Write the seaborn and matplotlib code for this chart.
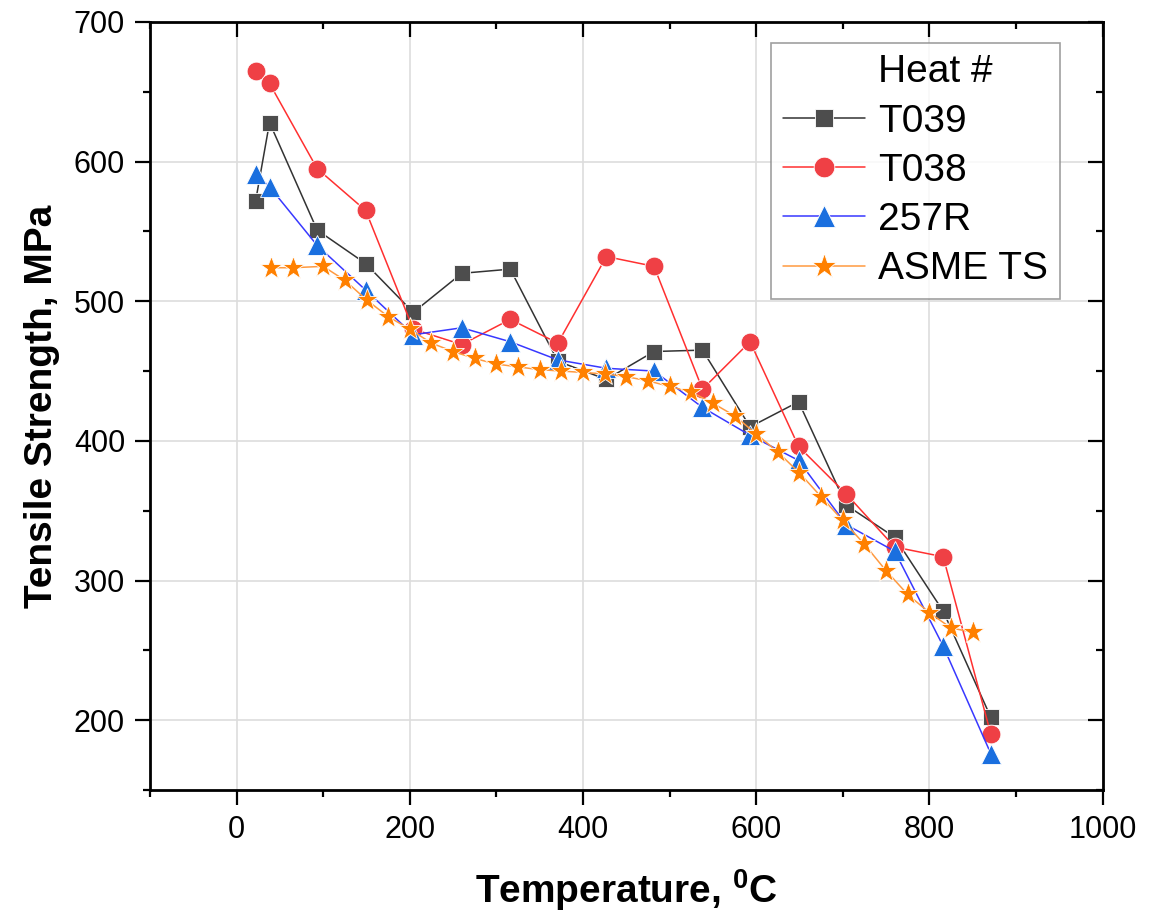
import numpy as np
import pandas as pd
import matplotlib.pyplot as plt
import seaborn as sns
from matplotlib.lines import Line2D
from matplotlib.ticker import MultipleLocator

# -----------------------------
# Data
# -----------------------------
test_temp = [22, 38, 93, 149, 204, 260, 316, 371, 427, 482, 538, 593, 649, 704, 760, 816, 871]
t039 = [572, 628, 551, 527, 492, 520, 523, 457, 444, 464, 465, 410, 428, 354, 331, 278, 202]
t038 = [665, 656, 595, 565, 480, 469, 487, 470, 532, 525, 437, 471, 396, 362, 324, 317, 190]
r257 = [591, 582, 540, 508, 476, 481, 471, 458, 452, 450, 424, 404, 386, 340, 321, 253, 176]

asme_temp = [40, 65, 100, 125, 150, 175, 200, 225, 250, 275, 300, 325, 350, 375, 400, 425,
             450, 475, 500, 525, 550, 575, 600, 625, 650, 675, 700, 725, 750, 775, 800, 825, 850]
asme_ts = [524, 524, 525, 515, 501, 489, 480, 470, 464, 459, 455, 453, 451, 450, 449, 448,
           446, 443, 439, 435, 427, 418, 405, 392, 377, 360, 343, 326, 307, 290, 277, 266, 263]

sns.set_theme(style="ticks")
plt.rcParams["font.family"] = ["Liberation Sans", "DejaVu Sans"]
plt.rcParams["text.color"] = "black"
plt.rcParams["axes.labelcolor"] = "black"

fig = plt.figure(figsize=(11.63, 9.16), dpi=100)
ax = fig.add_axes([0.129, 0.1376, 0.819, 0.8384])

series = [
    ("T039", test_temp, t039, "s", "#4d4d4d", "#333333", 12),
    ("T038", test_temp, t038, "o", "#ef4045", "#ff3030", 13.5),
    ("257R", test_temp, r257, "^", "#1a6fdf", "#3838ff", 14),
    ("ASME TS", asme_temp, asme_ts, "*", "#ff8000", "#ff9a40", 17),
]

# dummy first entry so "Heat #" sits in the label column
handles = [Line2D([], [], linestyle="none", marker="none")]
labels = ["Heat #"]
for name, xs, ys, mk, mcol, lcol, ms in series:
    sns.lineplot(x=xs, y=ys, ax=ax, color=lcol, linewidth=1.1, marker=mk,
                 markersize=ms, markerfacecolor=mcol, markeredgecolor="white",
                 markeredgewidth=0.6, zorder=3)
    handles.append(Line2D([], [], color=lcol, linewidth=1.1, marker=mk, markersize=ms * 1.1,
                          markerfacecolor=mcol, markeredgecolor="white", markeredgewidth=0.6))
    labels.append(name)

ax.set_xlim(-100, 1000)
ax.set_ylim(150, 700)
ax.xaxis.set_major_locator(MultipleLocator(200))
ax.xaxis.set_minor_locator(MultipleLocator(100))
ax.yaxis.set_major_locator(MultipleLocator(100))
ax.yaxis.set_minor_locator(MultipleLocator(50))
ax.grid(True, which="major", color="#dddddd", linewidth=1.2)

for s in ax.spines.values():
    s.set_linewidth(2)
    s.set_color("black")

ax.tick_params(axis="both", which="major", direction="out", length=11, width=1.6,
               labelsize=22, pad=7, color="black", labelcolor="black")
ax.tick_params(axis="both", which="minor", direction="out", length=5, width=1.6, color="black")
ax.tick_params(top=True, right=True, which="both")
# top and right ticks point inward
for t in ax.xaxis.get_ticklines(minor=False)[1::2] + ax.xaxis.get_ticklines(minor=True)[1::2]:
    t.set_marker(3)
for t in ax.yaxis.get_ticklines(minor=False)[1::2] + ax.yaxis.get_ticklines(minor=True)[1::2]:
    t.set_marker(0)

ax.set_xlabel("Temperature, $\\mathregular{^{0}}$C", fontsize=28, fontweight="bold", labelpad=16)
ax.set_ylabel("Tensile Strength, MPa", fontsize=28, fontweight="bold", labelpad=10)

leg = ax.legend(handles, labels, loc="upper right", bbox_to_anchor=(0.955, 0.973),
                fontsize=28, frameon=True, fancybox=False, edgecolor="#888888",
                handlelength=2.1, handletextpad=0.35, labelspacing=0.34,
                borderpad=0.3, borderaxespad=0)
leg.get_frame().set_linewidth(1.2)
for txt in leg.get_texts():
    txt.set_color("black")

fig.savefig("out.png", dpi=100)
